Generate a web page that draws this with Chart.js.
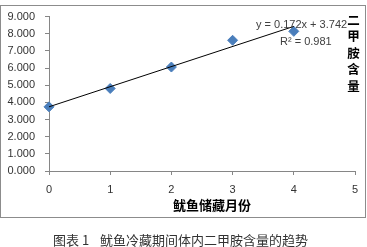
<!DOCTYPE html>
<html>
<head>
<meta charset="utf-8">
<script src="https://cdn.jsdelivr.net/npm/chart.js@4/dist/chart.umd.min.js"></script>
<style>
  html, body { margin: 0; padding: 0; background: #fff; }
  #wrap { position: relative; width: 367px; height: 247px; overflow: hidden; font-family: "Liberation Sans", Arial, sans-serif; }
  #frame { position: absolute; left: 0; top: 5px; width: 364px; height: 211px; border: 1px solid #8c8c8c; box-sizing: content-box; }
  canvas { position: absolute; left: 0; top: 0; }
  .txt { position: absolute; white-space: nowrap; color: #404040; }
  #eq1 { left: 256px; top: 18px; font-size: 11px; }
  #eq2 { left: 280px; top: 35px; font-size: 11px; }
  #ytitle { left: 347px; top: 12px; width: 13px; font-family: "Noto Sans CJK SC", sans-serif; font-weight: bold; font-size: 12.5px; line-height: 16.4px; color: #000; text-align: center; }
  #xtitle { left: 173px; top: 197px; font-family: "Noto Sans CJK SC", sans-serif; font-weight: bold; font-size: 13px; line-height: 16px; color: #000; }
  #cap1 { left: 53px; top: 231px; font-family: "Noto Sans CJK SC", sans-serif; font-size: 13px; line-height: 17px; color: #333; }
  #cap2 { left: 100px; top: 231px; font-family: "Noto Sans CJK SC", sans-serif; font-size: 13px; line-height: 17px; color: #333; }
</style>
</head>
<body>
<div id="wrap">
  <div id="frame"></div>
  <canvas id="c" width="367" height="247"></canvas>
  <div class="txt" id="eq1">y = 0.172x + 3.742</div>
  <div class="txt" id="eq2">R² = 0.981</div>
  <div class="txt" id="ytitle">二<br>甲<br>胺<br>含<br>量</div>
  <div class="txt" id="xtitle">鱿鱼储藏月份</div>
  <div class="txt" id="cap1">图表 1</div>
  <div class="txt" id="cap2">鱿鱼冷藏期间体内二甲胺含量的趋势</div>
</div>
<script>
// Data
const months = [0, 1, 2, 3, 4];
const dmaValues = [3.74, 4.81, 6.06, 7.62, 8.14];
const trendMonths = [0, 4];
const trendValues = [3.742, 8.43];
const yTicks = [0, 1, 2, 3, 4, 5, 6, 7, 8, 9];
const xTicks = [0, 1, 2, 3, 4, 5];

const axisColor = '#868686';

new Chart(document.getElementById('c'), {
  type: 'scatter',
  data: {
    datasets: [
      {
        label: 'trend',
        data: trendMonths.map((m, i) => ({ x: m, y: trendValues[i] })),
        showLine: true,
        borderColor: '#000000',
        borderWidth: 1,
        pointRadius: 0,
        fill: false,
        clip: false
      },
      {
        label: 'DMA',
        data: months.map((m, i) => ({ x: m, y: dmaValues[i] })),
        pointStyle: 'rectRot',
        pointRadius: 5,
        pointHoverRadius: 5,
        backgroundColor: '#4a7ebb',
        borderColor: '#4a7ebb',
        borderWidth: 1,
        showLine: false,
        clip: false
      }
    ]
  },
  options: {
    responsive: false,
    devicePixelRatio: 1,
    animation: false,
    events: [],
    layout: { padding: { left: 0, top: 15, right: 12, bottom: 0 } },
    plugins: { legend: { display: false }, tooltip: { enabled: false }, title: { display: false } },
    scales: {
      x: {
        type: 'linear',
        min: 0, max: 5,
        afterBuildTicks: s => { s.ticks = xTicks.map(v => ({ value: v })); },
        afterFit: s => { s.height = 76; },
        border: { color: axisColor, width: 1 },
        grid: { drawOnChartArea: false, drawTicks: true, tickLength: 4, tickColor: axisColor },
        ticks: { padding: 8, color: '#333', font: { family: 'Liberation Sans', size: 11 } }
      },
      y: {
        type: 'linear',
        min: 0, max: 9,
        afterBuildTicks: s => { s.ticks = yTicks.map(v => ({ value: v })); },
        afterFit: s => { s.width = 49; },
        border: { color: axisColor, width: 1 },
        grid: { drawOnChartArea: false, drawTicks: true, tickLength: 4, tickColor: axisColor },
        ticks: { padding: 10, color: '#333', font: { family: 'Liberation Sans', size: 11 }, callback: v => Number(v).toFixed(3) }
      }
    }
  }
});
</script>
</body>
</html>
